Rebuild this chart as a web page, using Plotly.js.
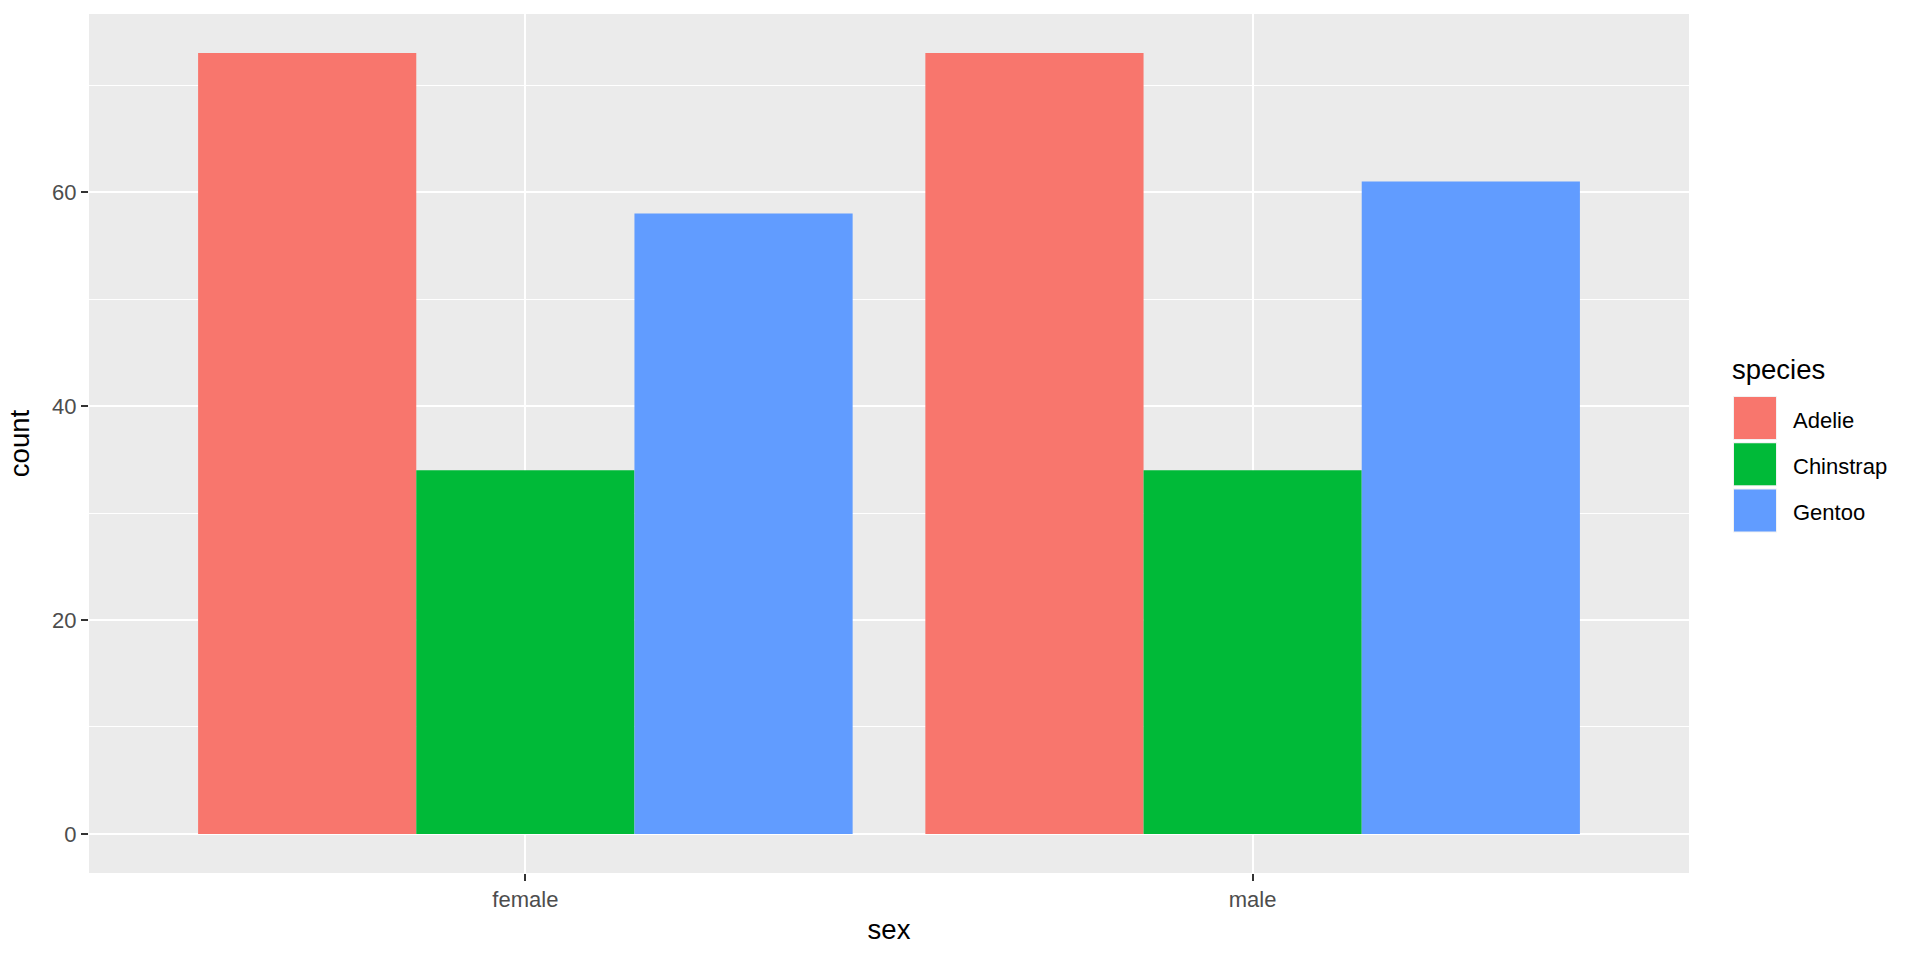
<!DOCTYPE html>
<html>
<head>
<meta charset="utf-8">
<script src="https://cdn.plot.ly/plotly-3.0.1.min.js"></script>
<style>html,body{margin:0;padding:0;background:#fff;}#chart{width:1920px;height:960px;}</style>
</head>
<body>
<div id="chart"></div>
<script>
// ---- data ----
const sexes = ["female", "male"];
const species = ["Adelie", "Chinstrap", "Gentoo"];
const adelie = [73, 73];
const chinstrap = [34, 34];
const gentoo = [58, 61];
const colors = ["#F8766D", "#00BA38", "#619CFF"];
const yTicks = [0, 20, 40, 60];

const seriesValues = [adelie, chinstrap, gentoo];
const FONT = "Liberation Sans, Arial, sans-serif";

const W = 1920, H = 960;
const M = {l: 89, r: 231, t: 14, b: 87};
const pw = W - M.l - M.r, ph = H - M.t - M.b;
const px = x => (x - M.l) / pw;
const py = y => (H - M.b - y) / ph;

const traces = species.map((s, i) => ({
  type: "bar",
  name: s,
  x: sexes,
  y: seriesValues[i],
  marker: {color: colors[i], line: {width: 0}},
  showlegend: false,
  hoverinfo: "skip"
}));

// manual ggplot-style legend
const shapes = [];
const annotations = [];
const keyX0 = 1733, keyX1 = 1777, keyTop = 396, keyStep = 46.3, keyH = 44;
species.forEach((s, i) => {
  const y0 = keyTop + i * keyStep;
  shapes.push({type: "rect", xref: "paper", yref: "paper",
    x0: px(keyX0), x1: px(keyX1), y0: py(y0), y1: py(y0 + keyH),
    fillcolor: "#F2F2F2", line: {width: 0}, layer: "above"});
  shapes.push({type: "rect", xref: "paper", yref: "paper",
    x0: px(keyX0 + 1), x1: px(keyX1 - 1), y0: py(y0 + 1), y1: py(y0 + keyH - 1),
    fillcolor: colors[i], line: {width: 0}, layer: "above"});
  annotations.push({xref: "paper", yref: "paper", x: px(1791), y: py(y0 + keyH / 2 + 2),
    xanchor: "left", yanchor: "middle", showarrow: false, text: s,
    font: {family: FONT, size: 22, color: "#000000"}});
});
annotations.push({xref: "paper", yref: "paper", x: px(1730), y: py(369),
  xanchor: "left", yanchor: "middle", showarrow: false, text: "species",
  font: {family: FONT, size: 27.5, color: "#000000"}});

const layout = {
  width: W, height: H,
  margin: M,
  paper_bgcolor: "#FFFFFF",
  plot_bgcolor: "#EBEBEB",
  font: {family: FONT},
  barmode: "group",
  bargap: 0.1,
  bargroupgap: 0,
  showlegend: false,
  xaxis: {
    type: "category",
    range: [-0.6, 1.6],
    showgrid: true, gridcolor: "#FFFFFF", gridwidth: 2,
    zeroline: false, showline: false,
    ticks: "outside", ticklen: 7, tickwidth: 2, tickcolor: "#333333",
    tickfont: {family: FONT, size: 22, color: "#4D4D4D"},
    title: {text: "sex", font: {family: FONT, size: 27.5, color: "#000000"}, standoff: 8},
    automargin: false, fixedrange: true
  },
  yaxis: {
    range: [-3.65, 76.65],
    tickmode: "array", tickvals: yTicks, ticktext: yTicks.map(String),
    showgrid: true, gridcolor: "#FFFFFF", gridwidth: 2,
    minor: {dtick: 10, tick0: 0, showgrid: true, gridcolor: "#FFFFFF", gridwidth: 1, ticks: ""},
    zeroline: false, showline: false,
    ticks: "outside", ticklen: 7, tickwidth: 2, tickcolor: "#333333",
    tickfont: {family: FONT, size: 22, color: "#4D4D4D"},
    title: {text: "count", font: {family: FONT, size: 27.5, color: "#000000"}, standoff: 14},
    automargin: false, fixedrange: true
  },
  shapes: shapes,
  annotations: annotations
};

Plotly.newPlot("chart", traces, layout, {staticPlot: true, displayModeBar: false});
</script>
</body>
</html>
